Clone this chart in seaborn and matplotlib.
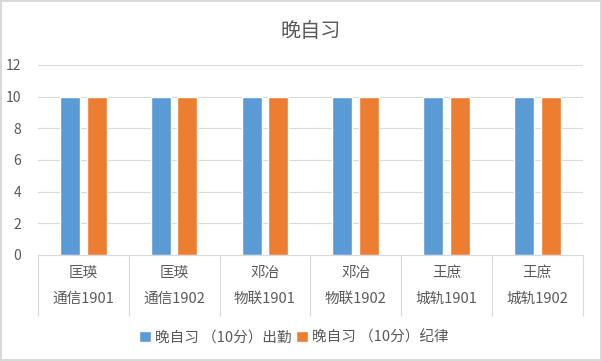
import pandas as pd
import matplotlib.pyplot as plt
import seaborn as sns
from matplotlib.ticker import FixedLocator

teachers = ['匡瑛', '匡瑛', '邓冶', '邓冶', '王庶', '王庶']
classes = ['通信1901', '通信1902', '物联1901', '物联1902', '城轨1901', '城轨1902']
attendance = [10, 10, 10, 10, 10, 10]
discipline = [10, 10, 10, 10, 10, 10]
series_names = ['晚自习 （10分）出勤', '晚自习 （10分）纪律']

labels = [f'{t}\n{c}' for t, c in zip(teachers, classes)]
df = pd.DataFrame({
    'cat': labels * 2,
    'series': [series_names[0]] * len(labels) + [series_names[1]] * len(labels),
    'value': attendance + discipline,
})

sns.set_style('white')
plt.rcParams['font.family'] = ['Noto Sans CJK SC', 'DejaVu Sans']

fig = plt.figure(figsize=(6.02, 3.61), dpi=100)
fig.patch.set_edgecolor('#D9D9D9')
fig.patch.set_linewidth(1.5)
ax = fig.add_axes([0.063, 0.294, 0.905, 0.526])

sns.barplot(data=df, x='cat', y='value', hue='series', order=labels,
            palette=['#5B9BD5', '#ED7D31'], saturation=1, width=0.585, gap=0.25,
            ax=ax, legend=True)

ax.set_ylim(0, 12)
ax.set_xlim(-0.5, len(labels) - 0.5)
ax.set_yticks(range(0, 13, 2))
ax.yaxis.grid(True, color='#D9D9D9', linewidth=0.8)
ax.set_axisbelow(True)
for s in ['top', 'right', 'left']:
    ax.spines[s].set_visible(False)
ax.spines['bottom'].set_color('#D9D9D9')
ax.set_xlabel('')
ax.set_ylabel('')
ax.set_title('晚自习', fontsize=14.5, color='#595959', pad=20)

ax.tick_params(axis='y', length=0, labelsize=10, labelcolor='#595959', pad=12)
ax.tick_params(axis='x', which='major', length=0, labelsize=10.5,
               labelcolor='#595959', pad=8)
for t in ax.get_xticklabels():
    t.set_linespacing(2.1)
ax.xaxis.set_minor_locator(FixedLocator([i - 0.5 for i in range(len(labels) + 1)]))
ax.tick_params(axis='x', which='minor', bottom=True, length=44,
               color='#D9D9D9', width=0.8)

leg = ax.legend(loc='upper center', bbox_to_anchor=(0.47, -0.33), ncol=2,
                frameon=False, fontsize=10.5, handlelength=0.8, handleheight=0.8,
                handletextpad=0.3, columnspacing=0.3)
for txt in leg.get_texts():
    txt.set_color('#595959')

fig.savefig('out.png', dpi=100)
